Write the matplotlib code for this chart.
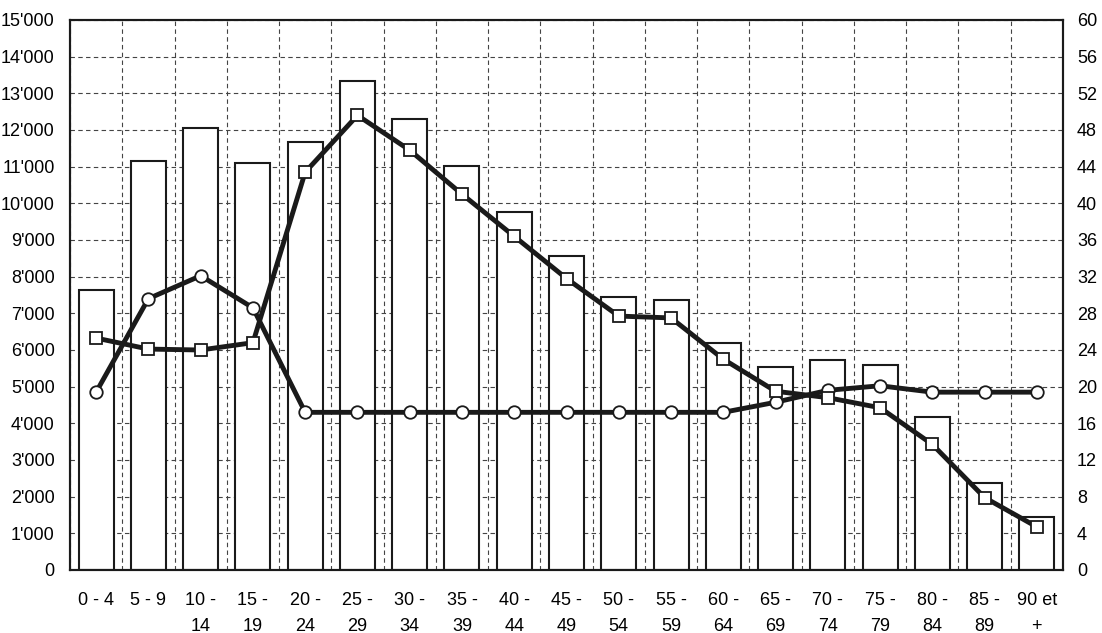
import matplotlib
matplotlib.use("Agg")
import matplotlib.pyplot as plt
from matplotlib import font_manager
import numpy as np

categories = ["0 - 4", "5 - 9", "10 -\n14", "15 -\n19", "20 -\n24", "25 -\n29", "30 -\n34",
              "35 -\n39", "40 -\n44", "45 -\n49", "50 -\n54", "55 -\n59", "60 -\n64",
              "65 -\n69", "70 -\n74", "75 -\n79", "80 -\n84", "85 -\n89", "90 et\n+"]
bar_values = [7650, 11160, 12060, 11090, 11680, 13330, 12290, 11030, 9770, 8560,
              7450, 7370, 6180, 5530, 5730, 5590, 4160, 2360, 1440]
circle_values = [19.4, 29.6, 32.1, 28.6, 17.2, 17.2, 17.2, 17.2, 17.2, 17.2,
                 17.2, 17.2, 17.2, 18.3, 19.6, 20.1, 19.4, 19.4, 19.4]
square_values = [25.3, 24.1, 24.0, 24.8, 43.4, 49.6, 45.8, 41.0, 36.4, 31.8,
                 27.7, 27.5, 23.0, 19.5, 18.8, 17.7, 13.7, 7.9, 4.7]
left_ticks = list(range(0, 15001, 1000))
left_labels = ["0"] + [f"{v//1000}'000" for v in left_ticks[1:]]
right_ticks = list(range(0, 61, 4))

names = {f.name for f in font_manager.fontManager.ttflist}
fam = "Liberation Sans Narrow" if "Liberation Sans Narrow" in names else "Liberation Sans"
plt.rcParams['font.family'] = [fam, 'DejaVu Sans']

fig = plt.figure(figsize=(11.02, 6.33), dpi=100)
ax = fig.add_axes([70/1102, 1 - 570/633, 993/1102, 550/633])
x = np.arange(len(categories))

ax.bar(x, bar_values, width=0.67, facecolor='white', edgecolor='#1a1a1a', linewidth=1.5, zorder=2)
ax.set_xlim(-0.5, len(categories) - 0.5)
ax.set_ylim(0, 15000)
ax.set_yticks(left_ticks)
ax.set_yticklabels(left_labels, fontsize=13)
ax.set_xticks(x)
ax.set_xticklabels(categories, fontsize=13, linespacing=1.65, va='top')
ax.set_xticks(np.arange(len(categories) + 1) - 0.5, minor=True)
ax.tick_params(axis='x', which='both', length=0, pad=16)
ax.tick_params(axis='y', length=0, pad=11)
ax.grid(False)
ax.yaxis.grid(True, linestyle=(0, (4, 3)), color='#444444', linewidth=0.8, zorder=0)
ax.xaxis.grid(True, which='minor', linestyle=(0, (4, 3)), color='#444444', linewidth=0.8, zorder=0)
ax.set_axisbelow(True)
for s in ax.spines.values():
    s.set_linewidth(1.5)
    s.set_color('#1a1a1a')

ax2 = ax.twinx()
ax2.set_ylim(0, 60)
ax2.set_yticks(right_ticks)
ax2.set_yticklabels([str(v) for v in right_ticks], fontsize=13)
ax2.tick_params(axis='y', length=0, pad=10)
ax2.plot(x, circle_values, color='#1a1a1a', linewidth=3.5, marker='o', markersize=9,
         markerfacecolor='white', markeredgecolor='#1a1a1a', markeredgewidth=1.3, zorder=3)
ax2.plot(x, square_values, color='#1a1a1a', linewidth=3.5, marker='s', markersize=9,
         markerfacecolor='white', markeredgecolor='#1a1a1a', markeredgewidth=1.3, zorder=3)
for s in ax2.spines.values():
    s.set_linewidth(1.5)
    s.set_color('#1a1a1a')

fig.savefig("out.png", dpi=100)
